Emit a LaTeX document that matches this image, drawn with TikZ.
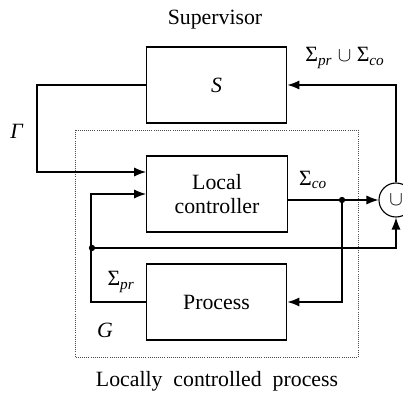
\documentclass[tikz,border=0pt]{standalone}
\usepackage{fontspec}
\setmainfont{Liberation Serif}
\usepackage{tikz}
\usetikzlibrary{arrows.meta, calc, positioning}

\begin{document}
\begin{tikzpicture} [x=0.025cm, y=-0.025cm,
                font=\fontsize{15.5}{16.5}\selectfont,
                line width=0.8pt,
                block/.style = {draw, minimum width=3.52cm,
                    minimum height=1.9cm, align=center},
                arr/.style = {-{Latex[length=8.5pt, width=6.5pt]}},
                joint/.style = {circle, fill, inner sep=0pt,
                    minimum size=4.5pt}]

            \useasboundingbox (0,0) rectangle (403,400);

            % Locally controlled process frame
            \draw [densely dotted, line width=0.5pt, black!70]
                (75,130) rectangle (358,357);

            % Supervisor S
            \node (sup) [block] at (216.5,85) {\textit{S}};

            % Local controller
            \node (lc) [block] at (217,194) {Local\\controller};

            % Process
            \node (proc) [block] at (216.5,302) {Process};

            % Union
            \node (un) [draw, circle, minimum size=0.85cm,
                inner sep=0pt] at (396,200) {$\cup$};

            % Branch points
            \coordinate (cosplit) at (342,200);
            \coordinate (prsplit) at (92,248);
            \node [joint] at (cosplit) {};
            \node [joint] at (prsplit) {};

            % Labels
            \node (suptext) at (215,20) {Supervisor};
            \node (evlabel) at (345,58)
                {Σ\textsubscript{\itshape pr} $\cup$ Σ\textsubscript{\itshape co}};
            \node (gamma) at (17,131) {\textit{Γ}};
            \node (colabel) at (313,180) {Σ\textsubscript{\itshape co}};
            \node (prlabel) at (121,282) {Σ\textsubscript{\itshape pr}};
            \node (glabel) at (105,330) {\textit{G}};
            \node (lcptext) at (217,381) {Locally\ \ controlled\ \ process};

            % Arrows
            \draw [arr] (sup.west) -- ++(-108.5,0) |- ($(lc.west)+(0,-22)$);
            \draw [arr] (un.north) |- (sup.east);
            \draw [arr] (lc.east |- un.west) -- (un.west);
            \draw [arr] (cosplit) |- (proc.east);
            \draw [arr] (proc.west) -- ++(-54.5,0) |- (lc.west);
            \draw [arr] (prsplit) -| (un.south);
            \end{tikzpicture}
\end{document}
